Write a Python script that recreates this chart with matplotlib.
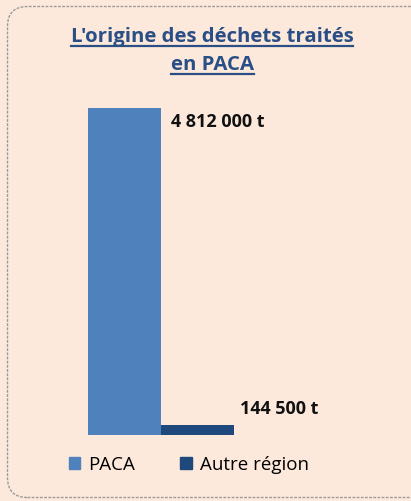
import matplotlib
matplotlib.use("Agg")
import matplotlib.pyplot as plt
from matplotlib.patches import FancyBboxPatch
from matplotlib.lines import Line2D
from matplotlib.transforms import IdentityTransform

series = ["PACA", "Autre région"]
values = [4812000, 144500]
labels = ["4 812 000 t", "144 500 t"]
colors = ["#4F81BD", "#1F497D"]
title_lines = ["L'origine des déchets traités", "en PACA"]

W, H = 411, 501
bg = "#FDE9DB"
fig = plt.figure(figsize=(W / 100, H / 100), dpi=100)
fig.patch.set_facecolor(bg)

# rounded dashed frame (pixel coords, origin bottom-left)
frame = FancyBboxPatch((7.5, 3.5), 430, 491,
                       boxstyle="round,pad=0,rounding_size=20",
                       transform=IdentityTransform(), facecolor=bg,
                       edgecolor="#9a9a9a", linewidth=1.0, linestyle=(0, (2, 1)),
                       zorder=-10)
fig.add_artist(frame)

# axes: x=0 -> px 88, 73 px per unit; y from 435 (0) to 108 (max)
left_px, right_px = 60, 380
unit = 73.0
ax = fig.add_axes([left_px / W, (H - 435) / H, (right_px - left_px) / W, (435 - 108) / H])
ax.set_xlim(-(88 - left_px) / unit, (right_px - 88) / unit)
ax.set_ylim(0, values[0])
ax.axis("off")

offsets = [(7.2, -10), (4.3, 11.5)]
for i, (v, c, lab) in enumerate(zip(values, colors, labels)):
    ax.bar(i, v, width=1.0, align="edge", color=c, edgecolor="none")
    ax.annotate(lab, (i + 1, v), xytext=offsets[i],
                textcoords="offset points", ha="left", va="center",
                fontsize=13, fontweight="bold", color="#111111",
                family="Open Sans")

# title with underline
fig.canvas.draw()
renderer = fig.canvas.get_renderer()
for k, (line, ypx) in enumerate(zip(title_lines, [37, 65])):
    t = fig.text(212 / W, 1 - ypx / H, line, ha="center", va="center",
                 fontsize=14.7, fontweight="bold", color="#2A4F86",
                 family="Open Sans")
    bb = t.get_window_extent(renderer)
    yline = bb.y0 + 1
    fig.add_artist(Line2D([bb.x0 / W, bb.x1 / W], [yline / H, yline / H],
                          transform=fig.transFigure, color="#2A4F86", lw=1.6))

# legend
handles = [plt.Rectangle((0, 0), 1, 1, color=c) for c in colors]
fig.legend(handles, series, loc="center", bbox_to_anchor=(189 / W, 1 - 465 / H),
           ncol=2, frameon=False, handlelength=0.6, handleheight=0.6,
           handletextpad=0.45, columnspacing=2.4,
           prop={"family": "Open Sans", "size": 13.5})

fig.savefig("out.png", dpi=100, facecolor=bg)
